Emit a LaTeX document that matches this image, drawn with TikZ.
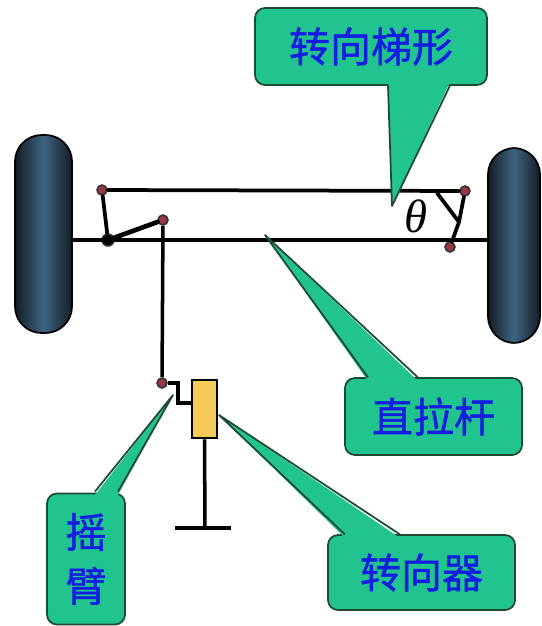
\documentclass[tikz,border=0pt]{standalone}
\usepackage{fontspec}
\newfontfamily\cjk[FakeBold=1.2]{Noto Sans CJK SC}
\newfontfamily\grk{Liberation Serif}
\usepackage{tikz}
\usetikzlibrary{positioning}

\definecolor{bubgreen}{RGB}{33,196,143}
\definecolor{bubedge}{RGB}{30,75,50}
\definecolor{txtblue}{RGB}{20,30,225}
\definecolor{tyredark}{RGB}{20,28,36}
\definecolor{tyremid}{RGB}{62,100,130}
\definecolor{jointred}{RGB}{150,55,65}
\definecolor{boxyellow}{RGB}{246,202,88}

\begin{document}
\begin{tikzpicture}[x=0.03cm, y=-0.03cm,
    rod/.style={line width=3.2pt, line cap=round},
    link/.style={line width=3pt},
    tyre/.style={%
      rectangle, draw=black, line width=1.5pt, rounded corners=0.8cm,
      left color=tyredark, right color=tyredark, middle color=tyremid
    },
    jt/.style={%
      circle, draw=black!80, line width=1.3pt, fill=jointred,
      inner sep=0pt, minimum size=0.3cm
    },
    bb/.style={%
      rectangle, rounded corners=0.3cm, draw=bubedge, line width=1.5pt,
      fill=bubgreen, text=txtblue, align=center, inner sep=0pt,
      font=\cjk\fontsize{35}{46}\selectfont
    },
    wedge/.style={fill=bubgreen},
    wedgeline/.style={draw=bubedge, line width=1.5pt, line join=round}
]
    \useasboundingbox (0,0) rectangle (542,626);

    % wheels
    \node[tyre, minimum width=1.71cm, minimum height=5.94cm] (lw) at (43.5,234) {};
    \node[tyre, minimum width=1.56cm, minimum height=5.85cm] (rw) at (514,245.5) {};

    % fixed points of the linkage
    \coordinate (ax1) at (72,240);
    \coordinate (ax2) at (488,240);
    \coordinate (k)   at (459,222);
    \coordinate (c)   at (437,193);
    \coordinate (s1)  at (178,403);
    \coordinate (s2)  at (192,403);
    \coordinate (g1)  at (205,528);
    \coordinate (g2)  at (175,528);
    \coordinate (g3)  at (231,528);

    % steering gear box
    \node[draw, line width=2.4pt, fill=boxyellow, minimum width=0.75cm,
          minimum height=1.74cm, inner sep=0pt] (gear) at (204.5,409) {};

    % joints
    \node[jt] (1) at (102,190) {};
    \node[jt, fill=black, minimum size=0.36cm] (2) at (108,240) {};
    \node[jt] (3) at (163,220) {};
    \node[jt] (4) at (465,191) {};
    \node[jt] (5) at (162,383) {};
    \node[jt] (6) at (450,247) {};

    % rods
    \draw[rod] (ax1) -- (ax2);
    \draw[rod] (1) -- (4);
    \draw[rod] (1) -- (2);
    \draw[rod, line width=4pt] (2) -- (3);
    \draw[link] (3) -- (5);
    \draw[link] (5) -| (s1) -- (s2);
    \draw[rod] (4) -- (k) -- (6);
    \draw[rod] (c) -- (k);
    \draw[link] (gear.south) -- (g1);
    \draw[line width=4pt] (g2) -- (g3);

    \node[font=\grk\itshape\fontsize{40}{40}\selectfont, inner sep=0pt] (th) at (416,216) {θ};

    % labels
    \node[bb, minimum width=6.96cm, minimum height=2.31cm] (t1) at (371,46.5) {转向梯形};
    \node[bb, minimum width=5.31cm, minimum height=2.31cm] (t2) at (433.5,416.5) {直拉杆};
    \node[bb, minimum width=5.61cm, minimum height=2.25cm] (t3) at (421.5,572.5) {转向器};
    \node[bb, minimum width=2.34cm, minimum height=3.93cm] (t4) at (86,559) {摇\\臂};

    % pointers
    \coordinate (p1) at (392,206);
    \coordinate (p2) at (265,235);
    \coordinate (p3) at (219,415);
    \coordinate (p4) at (173,395);

    \fill[wedge] (388,82) -- (p1) -- (450,82) -- cycle;
    \draw[wedgeline] (388,85.5) -- (p1) -- (450,85.5);
    \fill[wedge] (368,381) -- (p2) -- (418,381) -- cycle;
    \draw[wedgeline] (368,377.5) -- (p2) -- (418,377.5);
    \fill[wedge] (345,538) -- (p3) -- (400,538) -- cycle;
    \draw[wedgeline] (345,534.5) -- (p3) -- (400,534.5);
    \fill[wedge] (95,495) -- (p4) -- (118,495) -- cycle;
    \draw[wedgeline] (95,491.5) -- (p4) -- (118,491.5);

  \end{tikzpicture}
\end{document}
